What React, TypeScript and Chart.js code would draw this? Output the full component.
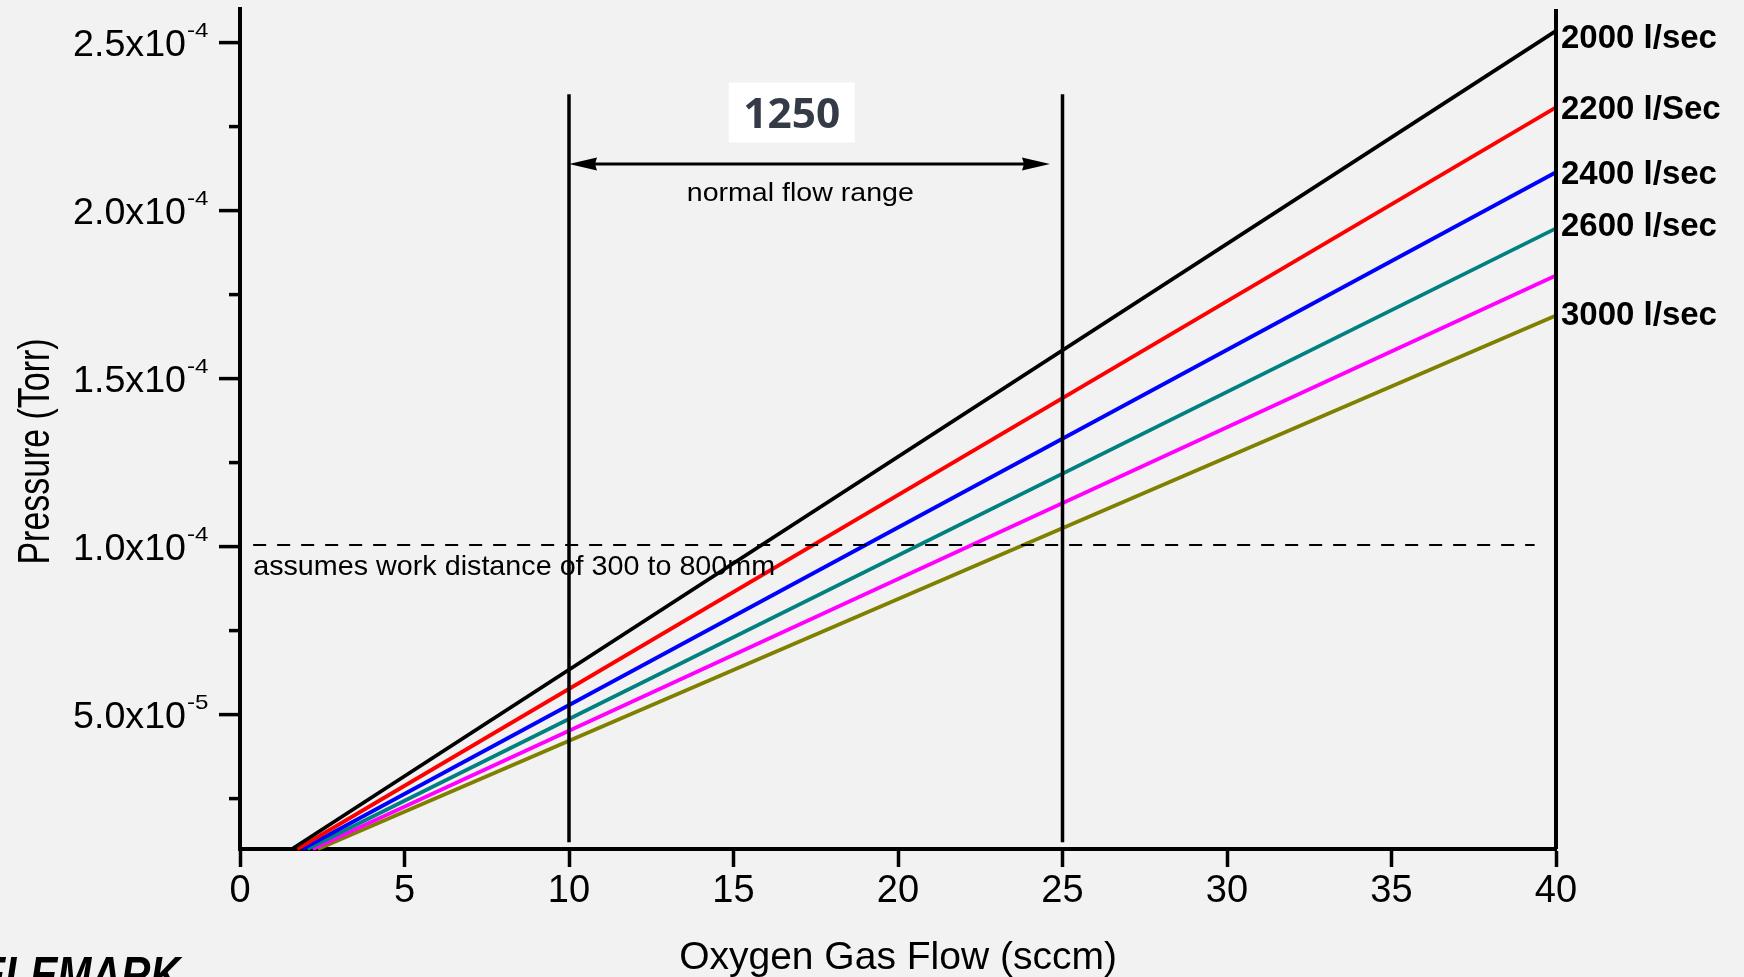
import React, { useEffect, useRef } from "react";
import { Chart, registerables } from "chart.js";

Chart.register(...registerables);

const FONT = "'Liberation Sans', Arial, Helvetica, sans-serif";

// ---- Data ----
const seriesNames = ["2000 l/sec", "2200 l/Sec", "2400 l/sec", "2600 l/sec", "2800 l/sec", "3000 l/sec"];
const seriesColors = ["#000000", "#ff0000", "#0000ff", "#008080", "#ff00ff", "#808000"];
const flowStart = [1.58, 1.74, 1.9, 2.05, 2.21, 2.37];
const pressureStart = [1.0e-5, 1.0e-5, 1.0e-5, 1.0e-5, 1.0e-5, 1.0e-5];
const flowEnd = [40, 40, 40, 40, 40, 40];
const pressureEnd = [2.535e-4, 2.307e-4, 2.114e-4, 1.947e-4, 1.807e-4, 1.688e-4];
const endLabels = ["2000 l/sec", "2200 l/Sec", "2400 l/sec", "2600 l/sec", "", "3000 l/sec"];
const endLabelPressure = [2.519e-4, 2.307e-4, 2.114e-4, 1.959e-4, 0, 1.693e-4];

const xMin = 0;
const xMax = 40;
const xStep = 5;
const yMin = 1.0e-5;
const yMax = 2.6e-4;
const yMajorTicks = [5e-5, 1e-4, 1.5e-4, 2e-4, 2.5e-4];
const yMajorMantissa = ["5.0x10", "1.0x10", "1.5x10", "2.0x10", "2.5x10"];
const yMajorExponent = ["-5", "-4", "-4", "-4", "-4"];
const yMinorTicks = [2.5e-5, 7.5e-5, 1.25e-4, 1.75e-4, 2.25e-4];

const rangeFlows = [10, 25];
const rangeLineLow = 1.2e-5;
const rangeLineHigh = 2.346e-4;
const arrowFlowFrom = 10;
const arrowFlowTo = 24.62;
const arrowPressure = 2.1385e-4;
const workDistancePressure = 1.005e-4;
const workDistanceFlowFrom = 0.4;
const workDistanceFlowTo = 39.35;

const xTitle = "Oxygen Gas Flow (sccm)";
const yTitle = "Pressure (Torr)";
const rangeText = "normal flow range";
const workText = "assumes work distance of 300 to 800mm";
const boxText = "1250";
const logoText = "TELEMARK";

function fitText(
  ctx: CanvasRenderingContext2D,
  text: string,
  x: number,
  y: number,
  font: string,
  width: number | null,
  align: "left" | "center" | "right"
) {
  ctx.save();
  ctx.font = font;
  ctx.textBaseline = "alphabetic";
  ctx.textAlign = "left";
  const w = ctx.measureText(text).width;
  const sx = width ? width / w : 1;
  const dw = w * sx;
  const x0 = align === "left" ? x : align === "center" ? x - dw / 2 : x - dw;
  ctx.translate(x0, y);
  ctx.scale(sx, 1);
  ctx.fillText(text, 0, 0);
  ctx.restore();
}

const decorPlugin = {
  id: "decor",
  afterDraw(chart: any) {
    const ctx: CanvasRenderingContext2D = chart.ctx;
    const xs = chart.scales.x;
    const ys = chart.scales.y;
    const area = chart.chartArea;
    ctx.save();
    ctx.fillStyle = "#000";
    ctx.strokeStyle = "#000";

    // y ticks
    ctx.lineWidth = 3.5;
    yMajorTicks.forEach((v) => {
      const py = ys.getPixelForValue(v);
      ctx.beginPath();
      ctx.moveTo(area.left - 21, py);
      ctx.lineTo(area.left, py);
      ctx.stroke();
    });
    yMinorTicks.forEach((v) => {
      const py = ys.getPixelForValue(v);
      ctx.beginPath();
      ctx.moveTo(area.left - 11, py);
      ctx.lineTo(area.left, py);
      ctx.stroke();
    });

    // y tick labels with superscript
    yMajorTicks.forEach((v, i) => {
      const py = ys.getPixelForValue(v);
      fitText(ctx, yMajorMantissa[i], area.left - 54, py + 13.3, `37px ${FONT}`, 113, "right");
      fitText(ctx, yMajorExponent[i], area.left - 53, py - 6, `21px ${FONT}`, 21.5, "left");
    });

    // y title
    ctx.save();
    ctx.translate(48.5, 451.5);
    ctx.rotate(-Math.PI / 2);
    fitText(ctx, yTitle, 0, 0, `44px ${FONT}`, 226, "center");
    ctx.restore();

    // double arrow
    const ay = ys.getPixelForValue(arrowPressure);
    const ax1 = xs.getPixelForValue(arrowFlowFrom);
    const ax2 = xs.getPixelForValue(arrowFlowTo);
    ctx.lineWidth = 3;
    ctx.beginPath();
    ctx.moveTo(ax1 + 10, ay);
    ctx.lineTo(ax2 - 10, ay);
    ctx.stroke();
    ctx.beginPath();
    ctx.moveTo(ax1, ay);
    ctx.lineTo(ax1 + 28, ay - 6.5);
    ctx.lineTo(ax1 + 26, ay);
    ctx.lineTo(ax1 + 28, ay + 6.5);
    ctx.closePath();
    ctx.fill();
    ctx.beginPath();
    ctx.moveTo(ax2, ay);
    ctx.lineTo(ax2 - 28, ay - 6.5);
    ctx.lineTo(ax2 - 26, ay);
    ctx.lineTo(ax2 - 28, ay + 6.5);
    ctx.closePath();
    ctx.fill();

    // normal flow range text
    fitText(ctx, rangeText, xs.getPixelForValue(17.03), ay + 37, `26px ${FONT}`, 227, "center");

    // 1250 box
    const bx = xs.getPixelForValue(16.77);
    const by = ys.getPixelForValue(2.292e-4);
    ctx.fillStyle = "#ffffff";
    ctx.fillRect(bx - 63, by - 30, 126, 60);
    ctx.fillStyle = "#343b47";
    fitText(ctx, boxText, bx, by + 15.5, `bold 42px 'Open Sans', 'Noto Sans', sans-serif`, 97, "center");
    ctx.fillStyle = "#000";

    // work distance text
    const wy = ys.getPixelForValue(workDistancePressure);
    fitText(ctx, workText, xs.getPixelForValue(workDistanceFlowFrom), wy + 30, `28px ${FONT}`, 522, "left");

    // end labels
    endLabels.forEach((t, i) => {
      if (!t) return;
      const py = ys.getPixelForValue(endLabelPressure[i]);
      fitText(ctx, t, area.right + 5, py + 11.5, `bold 33px ${FONT}`, null, "left");
    });

    // logo text, cut off at bottom-left
    ctx.save();
    ctx.font = `italic bold 50px ${FONT}`;
    const wTE = ctx.measureText("TE").width;
    const wRest = ctx.measureText("LEMARK").width;
    const sx = 175 / wRest;
    ctx.translate(5 - wTE * sx, 992);
    ctx.scale(sx, 1);
    ctx.textBaseline = "alphabetic";
    ctx.fillText(logoText, 0, 0);
    ctx.restore();

    ctx.restore();
  },
};

export default function App() {
  const ref = useRef<HTMLCanvasElement | null>(null);

  useEffect(() => {
    if (!ref.current) return;
    const seriesSets = seriesNames.map((name, i) => ({
      label: name,
      data: [
        { x: flowStart[i], y: pressureStart[i] },
        { x: flowEnd[i], y: pressureEnd[i] },
      ],
      borderColor: seriesColors[i],
      backgroundColor: seriesColors[i],
      borderWidth: 3.8,
      showLine: true,
      pointRadius: 0,
      clip: false as const,
    }));
    const dashed = {
      label: "work distance",
      data: [
        { x: workDistanceFlowFrom, y: workDistancePressure },
        { x: workDistanceFlowTo, y: workDistancePressure },
      ],
      borderColor: "#000",
      borderWidth: 2,
      borderDash: [13, 11],
      showLine: true,
      pointRadius: 0,
      clip: false as const,
    };
    const rangeSets = rangeFlows.map((f) => ({
      label: "range " + f,
      data: [
        { x: f, y: rangeLineLow },
        { x: f, y: rangeLineHigh },
      ],
      borderColor: "#000",
      borderWidth: 3.5,
      showLine: true,
      pointRadius: 0,
      clip: false as const,
    }));
    const rightEdge = {
      label: "edge",
      data: [
        { x: xMax, y: yMin },
        { x: xMax, y: yMax },
      ],
      borderColor: "#000",
      borderWidth: 4,
      showLine: true,
      pointRadius: 0,
      clip: false as const,
    };

    const chart = new Chart(ref.current, {
      type: "scatter",
      data: { datasets: [dashed, ...rangeSets, rightEdge, ...seriesSets] as any },
      options: {
        animation: false,
        responsive: false,
        maintainAspectRatio: false,
        layout: { padding: { top: 9, right: 188, left: 0, bottom: 0 } },
        plugins: { legend: { display: false }, tooltip: { enabled: false } },
        elements: { line: { tension: 0 }, point: { radius: 0 } },
        scales: {
          x: {
            type: "linear",
            position: "bottom",
            min: xMin,
            max: xMax,
            ticks: {
              stepSize: xStep,
              color: "#000",
              font: { family: FONT, size: 38 },
              padding: 2,
              maxRotation: 0,
              autoSkip: false,
            },
            grid: {
              drawOnChartArea: false,
              drawTicks: true,
              tickLength: 18,
              tickWidth: 3.5,
              tickColor: "#000",
            },
            border: { display: true, color: "#000", width: 4 },
            title: {
              display: true,
              text: xTitle,
              color: "#000",
              font: { family: FONT, size: 39 },
              padding: { top: 0, bottom: -5 },
            },
            afterFit: (s: any) => {
              s.height = 128;
            },
          },
          y: {
            type: "linear",
            position: "left",
            min: yMin,
            max: yMax,
            ticks: { display: false },
            grid: { display: false },
            border: { display: true, color: "#000", width: 4 },
            afterFit: (s: any) => {
              s.width = 240;
            },
          },
        },
      },
      plugins: [decorPlugin],
    });
    return () => chart.destroy();
  }, []);

  return (
    <div
      style={{
        position: "absolute",
        left: 0,
        top: 0,
        width: 1744,
        height: 977,
        background: "#f2f2f2",
        overflow: "hidden",
      }}
    >
      <canvas ref={ref} width={1744} height={977} style={{ display: "block", width: 1744, height: 977 }} />
    </div>
  );
}
